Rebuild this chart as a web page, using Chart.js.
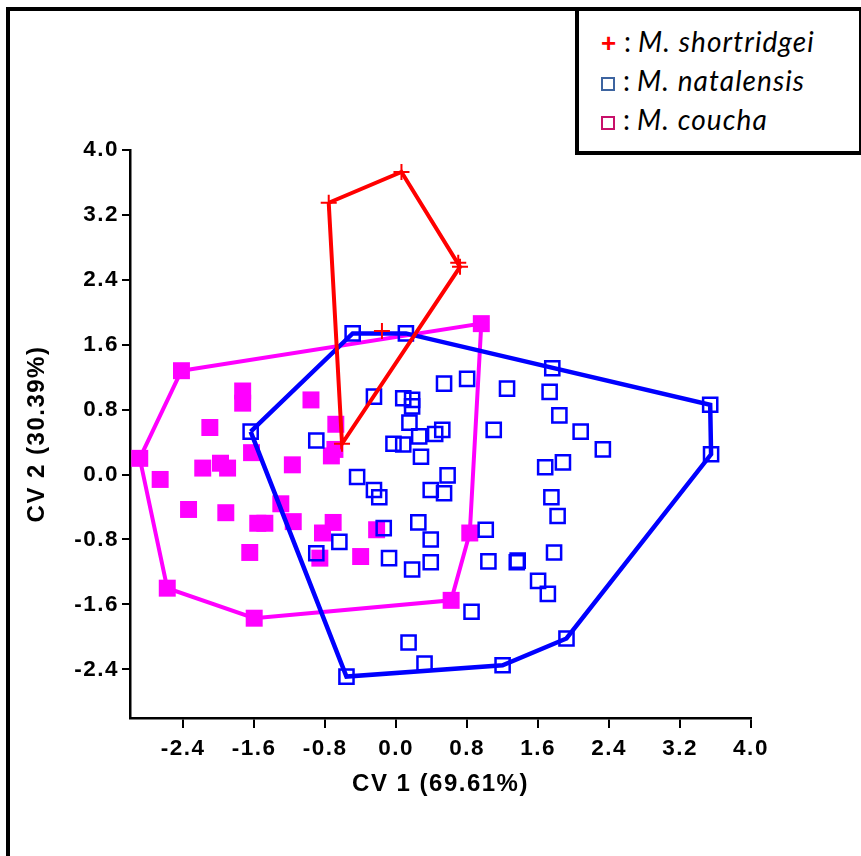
<!DOCTYPE html>
<html>
<head>
<meta charset="utf-8">
<script src="https://cdn.jsdelivr.net/npm/chart.js@4/dist/chart.umd.min.js"></script>
<style>
  html, body { margin: 0; padding: 0; background: #fff; }
  #wrap { position: relative; width: 861px; height: 856px; overflow: hidden; background: #fff; }
  #frame { position: absolute; left: 6px; top: 7px; width: 900px; height: 900px; border: 4px solid #000; box-sizing: border-box; }
  #c { position: absolute; left: 0; top: 0; }
  #legend { position: absolute; left: 575px; top: 7px; width: 287px; height: 148px; border: 4px solid #000; border-right-width: 3px; box-sizing: border-box; background: #fff; font-family: Lato, "Open Sans", sans-serif; font-size: 28px; letter-spacing: 1.1px; color: #000; }
  .row { position: absolute; left: 22px; height: 34px; line-height: 34px; white-space: nowrap; }
  .sym { display: inline-block; width: 15px; }
  .plus { color: #ff0000; font-weight: bold; font-style: normal; font-family: "Liberation Sans", sans-serif; font-size: 26px; letter-spacing: 0; }
  .sq { display: inline-block; width: 10px; height: 10px; border: 2.5px solid; vertical-align: 0px; }
  .colon { margin: 0 6px 0 8px; }
  i { font-style: italic; }
</style>
</head>
<body>
<div id="wrap">
  <div id="frame"></div>
  <canvas id="c" width="861" height="856"></canvas>
  <div id="legend">
    <div class="row" style="top:13px"><span class="sym plus">+</span><span class="colon">:</span><i>M. shortridgei</i></div>
    <div class="row" style="top:52px"><span class="sq" style="border-color:#3d64a0"></span><span class="colon">:</span><i>M. natalensis</i></div>
    <div class="row" style="top:91px"><span class="sq" style="border-color:#c8106a"></span><span class="colon">:</span><i>M. coucha</i></div>
  </div>
</div>
<script>
// ---- Data ----
// M. shortridgei (red crosses)
const shortX = [-0.76, 0.06, 0.70, 0.72, -0.61, -0.16];
const shortY = [3.35, 3.73, 2.61, 2.56, 0.38, 1.77];
const shortHull = [0, 1, 3, 4, 0];

// M. natalensis (blue open squares)
const natX = [-1.64, -0.49, 0.11, 3.54, 3.55, 1.92, 1.20, -0.56,
  1.76, 0.54, 0.80, 1.25, -0.25, 0.08, 0.18, 0.18, 0.15, 0.52, 0.44, 0.26,
  -0.03, 0.08, 1.10, -0.90, 0.28, -0.44, -0.25, -0.19, 0.58, 0.39, 0.54,
  0.25, -0.14, -0.64, -0.90, 0.39, -0.08, 0.18, 0.39, 1.01, 1.04, 1.37,
  1.36, 0.85, 0.14, 0.32, 1.73, 1.84, 2.08, 2.33, 1.88, 1.68, 1.75, 1.82,
  1.78, 1.60, 1.71];
const natY = [0.53, 1.74, 1.74, 0.86, 0.25, -2.02, -2.35, -2.49,
  1.31, 1.12, 1.18, 1.06, 0.96, 0.94, 0.92, 0.84, 0.64, 0.55, 0.50, 0.47,
  0.38, 0.37, 0.55, 0.42, 0.22, -0.03, -0.19, -0.28, -0.01, -0.19, -0.23,
  -0.59, -0.66, -0.83, -0.97, -0.80, -1.03, -1.17, -1.08, -0.68, -1.07, -1.06,
  -1.08, -1.69, -2.07, -2.33, 1.02, 0.73, 0.53, 0.31, 0.15, 0.09, -0.28, -0.51,
  -0.96, -1.31, -1.47];
const natHull = [0, 1, 2, 3, 4, 5, 6, 7, 0];

// M. coucha (magenta filled squares)
const couX = [-2.42, 0.96, 0.83, 0.62, -1.60, -2.58, -2.89,
  -1.73, -1.73, -0.96, -2.10, -0.68, -1.63, -2.18, -1.98, -1.90, -1.17, -0.69,
  -0.73, -2.66, -2.34, -1.92, -1.30, -1.56, -1.48, -1.16, -0.71, -1.65, -0.83,
  -0.86, -0.40, -0.22];
const couY = [1.28, 1.86, -0.72, -1.55, -1.77, -1.40, 0.20,
  1.03, 0.88, 0.92, 0.58, 0.62, 0.27, 0.08, 0.14, 0.08, 0.12, 0.31,
  0.23, -0.06, -0.43, -0.47, -0.36, -0.60, -0.60, -0.58, -0.59, -0.96, -0.72,
  -1.03, -1.01, -0.68];
const couHull = [0, 1, 2, 3, 4, 5, 6, 0];

// Axis ticks
const xTicks = [-2.4, -1.6, -0.8, 0.0, 0.8, 1.6, 2.4, 3.2, 4.0];
const yTicks = [-2.4, -1.6, -0.8, 0.0, 0.8, 1.6, 2.4, 3.2, 4.0];
const xTitle = 'CV 1 (69.61%)';
const yTitle = 'CV 2 (30.39%)';

// ---- Build ----
const pts = (xs, ys) => xs.map((x, i) => ({ x: x, y: ys[i] }));
const hull = (xs, ys, idx) => idx.map(i => ({ x: xs[i], y: ys[i] }));

const spacing = {
  id: 'spacing',
  beforeLayout(chart) { chart.ctx.letterSpacing = '1.5px'; },
  beforeDraw(chart) { chart.ctx.letterSpacing = '1.5px'; }
};

const tickFont = { family: '"Liberation Sans", Arial, sans-serif', size: 22.5, weight: 'bold' };
const titleFont = { family: '"Liberation Sans", Arial, sans-serif', size: 24, weight: 'bold' };

new Chart(document.getElementById('c'), {
  type: 'scatter',
  data: {
    datasets: [
      { label: 'shortridgei hull', data: hull(shortX, shortY, shortHull), showLine: true, borderColor: '#ff0000', borderWidth: 4, pointRadius: 0, order: 0 },
      { label: 'M. shortridgei', data: pts(shortX, shortY), pointStyle: 'cross', pointRadius: 8, borderColor: '#ff0000', borderWidth: 2, order: 1 },
      { label: 'natalensis hull', data: hull(natX, natY, natHull), showLine: true, borderColor: '#0000ff', borderWidth: 4.5, pointRadius: 0, order: 2 },
      { label: 'M. natalensis', data: pts(natX, natY), pointStyle: 'rect', pointRadius: 10, borderColor: '#0000ff', backgroundColor: 'rgba(0,0,0,0)', borderWidth: 2.5, order: 3 },
      { label: 'coucha hull', data: hull(couX, couY, couHull), showLine: true, borderColor: '#ff00ff', borderWidth: 4, pointRadius: 0, order: 4 },
      { label: 'M. coucha', data: pts(couX, couY), pointStyle: 'rect', pointRadius: 12, borderColor: '#ff00ff', backgroundColor: '#ff00ff', borderWidth: 0, order: 5 }
    ]
  },
  options: {
    responsive: false,
    animation: false,
    events: [],
    layout: { padding: { left: 10, top: 150, right: 110, bottom: 38 } },
    plugins: { legend: { display: false }, tooltip: { enabled: false } },
    scales: {
      x: {
        type: 'linear', min: -3.0, max: 4.0,
        afterBuildTicks(s) { s.ticks = xTicks.map(v => ({ value: v })); },
        afterFit(s) { s.height = 100; },
        grid: { drawOnChartArea: false, drawTicks: true, tickLength: 10, color: '#000', lineWidth: 2 },
        border: { display: true, color: '#000', width: 2.5 },
        ticks: { color: '#000', font: tickFont, padding: 7, maxRotation: 0, autoSkip: false, callback: v => Number(v).toFixed(1) },
        title: { display: true, text: xTitle, color: '#000', font: titleFont, padding: { top: 0, bottom: 19 } }
      },
      y: {
        type: 'linear', min: -3.0, max: 4.0,
        afterBuildTicks(s) { s.ticks = yTicks.map(v => ({ value: v })); },
        afterFit(s) { s.width = 120; },
        grid: { drawOnChartArea: false, drawTicks: true, tickLength: 8, color: '#000', lineWidth: 2 },
        border: { display: true, color: '#000', width: 2.5 },
        ticks: { color: '#000', font: tickFont, padding: 3, autoSkip: false, callback: v => Number(v).toFixed(1) },
        title: { display: true, text: yTitle, color: '#000', font: titleFont, padding: { top: 13, bottom: 0 } }
      }
    }
  },
  plugins: [spacing]
});
</script>
</body>
</html>
